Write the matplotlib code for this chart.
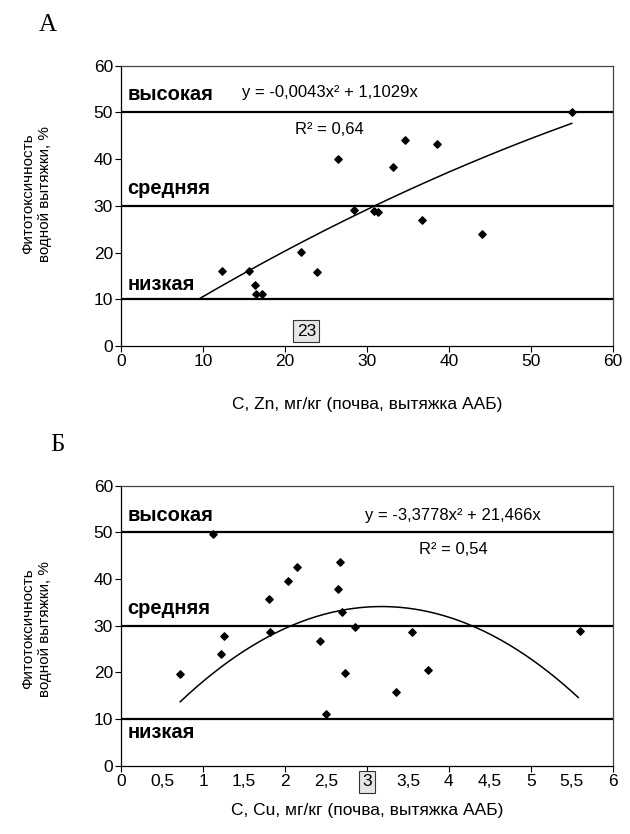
import numpy as np
import matplotlib
matplotlib.use('Agg')
import matplotlib.pyplot as plt
from matplotlib.ticker import MultipleLocator, FixedLocator, FixedFormatter

plt.rcParams['font.family'] = ['Liberation Sans', 'DejaVu Sans']

# --- данные: панель А (Zn) ---
zn_x = [12.3, 15.6, 16.3, 16.5, 17.2, 22.0, 23.9, 26.5, 28.4, 30.8, 31.4,
        33.2, 34.7, 36.7, 38.5, 44.1, 55.0]
zn_y = [16.1, 16.1, 13.0, 11.1, 11.1, 20.1, 15.9, 40.0, 29.1, 28.9, 28.7,
        38.3, 44.0, 26.9, 43.2, 24.0, 50.1]
zn_coef = [-0.0043, 1.1029]
zn_fit_range = [9.5, 55.0]

# --- данные: панель Б (Cu) ---
cu_x = [0.72, 1.12, 1.26, 1.22, 1.80, 1.81, 2.04, 2.15, 2.43, 2.50, 2.67,
        2.65, 2.69, 2.73, 2.85, 3.36, 3.55, 3.75, 5.60]
cu_y = [19.7, 49.6, 27.8, 23.9, 35.7, 28.7, 39.6, 42.6, 26.8, 11.1, 43.6,
        37.8, 32.9, 19.8, 29.7, 15.9, 28.6, 20.6, 28.9]
cu_coef = [-3.3778, 21.466]
cu_fit_range = [0.72, 5.58]

levels = [50, 30, 10]
level_names = ['высокая', 'средняя', 'низкая']

fig = plt.figure(figsize=(6.3, 8.34), dpi=100)
W, H = 630, 834


def add_axes_px(left, top, right, bottom):
    return fig.add_axes([left / W, 1 - bottom / H, (right - left) / W, (bottom - top) / H])


def style_axes(ax):
    for s in ['top', 'right']:
        ax.spines[s].set_color('#444444')
        ax.spines[s].set_linewidth(0.9)
    for s in ['left', 'bottom']:
        ax.spines[s].set_color('black')
        ax.spines[s].set_linewidth(0.9)
    ax.set_ylim(0, 60)
    ax.yaxis.set_major_locator(MultipleLocator(10))
    ax.tick_params(direction='out', length=4, width=0.8, labelsize=12.5, pad=2)
    for y in levels:
        ax.axhline(y, color='black', lw=1.6, zorder=2)


def trend(ax, rng, coef):
    xx = np.linspace(rng[0], rng[1], 200)
    ax.plot(xx, coef[0] * xx ** 2 + coef[1] * xx, color='black', lw=1.1, zorder=3)


def categories(ax, ys):
    for name, y in zip(level_names, ys):
        ax.text(0.012, y, name, transform=ax.get_yaxis_transform(),
                fontsize=14.5, fontweight='bold', va='center')


def py2d(py, top, bottom):
    return (bottom - py) / (bottom - top) * 60


# ---------------- панель А ----------------
ax1 = add_axes_px(121.3, 65.7, 612.7, 346)
style_axes(ax1)
ax1.set_xlim(0, 60)
ax1.xaxis.set_major_locator(MultipleLocator(10))
ax1.scatter(zn_x, zn_y, marker='D', s=14, color='black', zorder=4)
trend(ax1, zn_fit_range, zn_coef)
categories(ax1, [py2d(p, 65.7, 346) for p in (95, 188.3, 285)])
ax1.text(14.7, 54.3, 'y = -0,0043x² + 1,1029x', fontsize=12, va='center')
ax1.text(21.2, 46.3, 'R² = 0,64', fontsize=12, va='center')
ax1.text(22.6, 3.2, '23', fontsize=12.5, ha='center', va='center',
         bbox=dict(boxstyle='square,pad=0.2', fc='#e6e6e6', ec='#333333', lw=0.8))
ax1.set_xlabel('С, Zn, мг/кг (почва, вытяжка ААБ)', fontsize=12.5, labelpad=20)

# ---------------- панель Б ----------------
ax2 = add_axes_px(121.3, 485.7, 612.7, 765.7)
style_axes(ax2)
ax2.set_xlim(0, 6)
ax2.xaxis.set_major_locator(MultipleLocator(1))
ax2.xaxis.set_major_formatter(plt.FuncFormatter(lambda v, p: f'{v:g}'.replace('.', ',')))
half = [0.5, 1.5, 2.5, 3.5, 4.5, 5.5]
ax2.xaxis.set_minor_locator(FixedLocator(half))
ax2.xaxis.set_minor_formatter(FixedFormatter([f'{v:g}'.replace('.', ',') for v in half]))
ax2.tick_params(axis='x', which='minor', length=0, labelsize=12.5, pad=6)
ax2.scatter(cu_x, cu_y, marker='D', s=14, color='black', zorder=4)
trend(ax2, cu_fit_range, cu_coef)
for lbl in ax2.get_xticklabels():
    if lbl.get_text() == '3':
        lbl.set_bbox(dict(boxstyle='square,pad=0.2', fc='#e6e6e6', ec='#333333', lw=0.8))

categories(ax2, [py2d(p, 485.7, 765.7) for p in (515.7, 608.3, 732.7)])
ax2.text(2.98, py2d(515.7, 485.7, 765.7), 'y = -3,3778x² + 21,466x', fontsize=12, va='center')
ax2.text(3.64, py2d(550, 485.7, 765.7), 'R² = 0,54', fontsize=12, va='center')
ax2.set_xlabel('С, Cu, мг/кг (почва, вытяжка ААБ)', fontsize=12.5, labelpad=10)

# подписи оси Y
for cy in [194, 629]:
    fig.text(28.3 / W, 1 - cy / H, 'Фитотоксичность', rotation=90, ha='center', va='center', fontsize=11)
    fig.text(45 / W, 1 - cy / H, 'водной вытяжки, %', rotation=90, ha='center', va='center', fontsize=11)

# буквы панелей
fig.text(48 / W, 1 - 25 / H, 'А', fontsize=18, family=['Liberation Serif', 'DejaVu Serif'], ha='center', va='center')
fig.text(57 / W, 1 - 445 / H, 'Б', fontsize=18, family=['Liberation Serif', 'DejaVu Serif'], ha='center', va='center')

fig.savefig('out.png', dpi=100)
